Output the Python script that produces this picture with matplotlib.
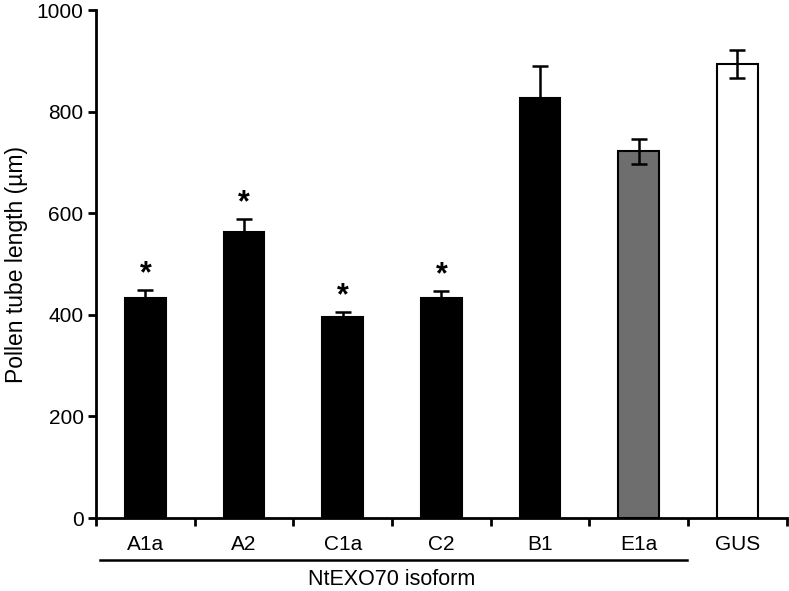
import numpy as np
import matplotlib.pyplot as plt
from matplotlib.transforms import blended_transform_factory

plt.rcParams['font.family'] = ['Liberation Sans', 'DejaVu Sans']

# data
isoforms = ['A1a', 'A2', 'C1a', 'C2', 'B1', 'E1a', 'GUS']
length = [434, 563, 395, 433, 826, 722, 894]
sem = [14, 26, 11, 14, 64, 25, 27]
signif = [True, True, True, True, False, False, False]
bar_colors = ['black', 'black', 'black', 'black', 'black', '#6e6e6e', 'white']
# B1 only shows the upper half of its error bar
err_lower = [0, 0, 0, 0, 0, 25, 27]

fig = plt.figure(figsize=(7.89, 5.91), dpi=100)
ax = fig.add_axes([0.1217, 0.1235, 0.8753, 0.8595])

x = np.arange(len(isoforms))
ax.bar(x, length, width=0.41, color=bar_colors, edgecolor='black', linewidth=1.5, zorder=2)
ax.errorbar(x, length, yerr=[err_lower, sem], fmt='none', ecolor='black',
            elinewidth=1.8, capsize=6, capthick=1.8, zorder=3)

for xi, yi, ei, s in zip(x, length, sem, signif):
    if s:
        ax.text(xi, yi + ei + 2, '*', ha='center', va='bottom', fontsize=22, fontweight='bold')

ax.set_xlim(-0.5, len(isoforms) - 0.5)
ax.set_ylim(0, 1000)
ax.set_yticks(np.arange(0, 1001, 200))
ax.set_xticks(x)
ax.set_xticklabels(isoforms)
ax.set_xticks(np.arange(-0.5, len(isoforms)), minor=True)
ax.tick_params(axis='x', which='major', length=0, pad=12, labelsize=15)
ax.tick_params(axis='x', which='minor', length=6, width=2, direction='out')
ax.tick_params(axis='y', length=6, width=2, labelsize=15, pad=3)

for side in ['top', 'right']:
    ax.spines[side].set_visible(False)
ax.spines['left'].set_linewidth(2)
ax.spines['bottom'].set_linewidth(2)

ax.set_ylabel('Pollen tube length (µm)', fontsize=16.5, labelpad=6)

trans = blended_transform_factory(ax.transData, ax.transAxes)
ax.plot([-0.46, 5.49], [-0.083, -0.083], color='black', linewidth=1.8,
        transform=trans, clip_on=False)
ax.text(2.5, -0.122, 'NtEXO70 isoform', ha='center', va='center', fontsize=15.5,
        transform=trans)

plt.savefig('out.png', dpi=100)
